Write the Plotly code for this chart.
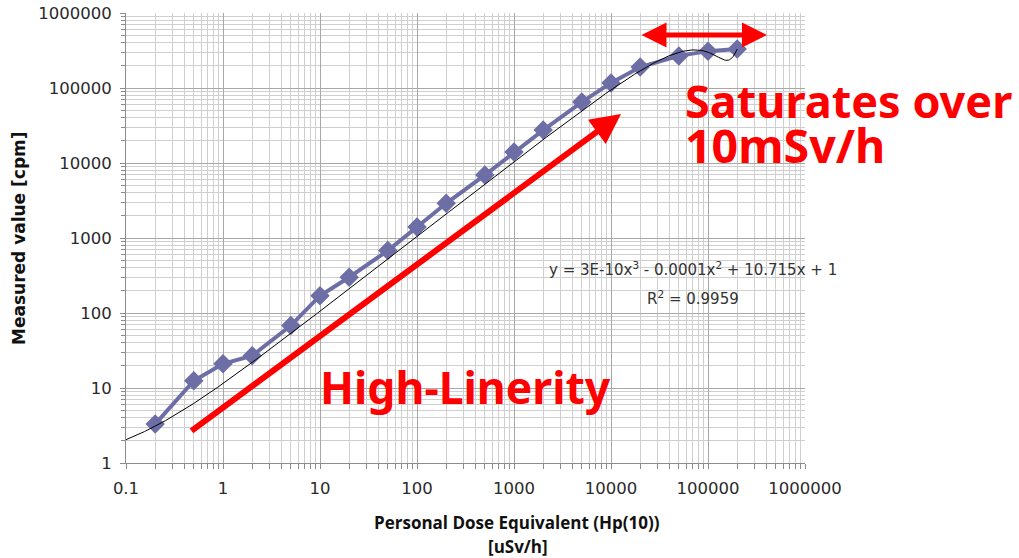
import numpy as np
import plotly.graph_objects as go

# ---- data ----
dose_usvh = [0.2, 0.5, 1, 2, 5, 10, 20, 50, 100, 200, 500, 1000, 2000,
             5000, 10000, 20000, 50000, 100000, 200000]
measured_cpm = [3.3, 12.5, 21, 27, 68, 170, 300, 680, 1400, 2900, 6900,
                14000, 27500, 65000, 117000, 190000, 268000, 310000, 330000]
tick_vals_x = [0.1, 1, 10, 100, 1000, 10000, 100000, 1000000]
tick_text_x = ["0.1", "1", "10", "100", "1000", "10000", "100000", "1000000"]
tick_vals_y = [1, 10, 100, 1000, 10000, 100000, 1000000]
tick_text_y = ["1", "10", "100", "1000", "10000", "100000", "1000000"]
trend_intercept = 1  # Excel trendline with intercept set to 1

# Excel-style polynomial (order 3) trendline fitted on the data, intercept fixed
xd = np.array(dose_usvh, dtype=float)
yd = np.array(measured_cpm, dtype=float)
A = np.vstack([xd ** 3, xd ** 2, xd]).T
abc, *_ = np.linalg.lstsq(A, yd - trend_intercept, rcond=None)
xt = np.logspace(np.log10(0.1), np.log10(xd.max()), 800)
yt = abc[0] * xt ** 3 + abc[1] * xt ** 2 + abc[2] * xt + trend_intercept


def minor_vals(lo, hi):
    return [m * 10.0 ** e for e in range(lo, hi) for m in range(2, 10)]


SER = "rgb(110,110,166)"
fig = go.Figure()
fig.add_trace(go.Scatter(x=dose_usvh, y=measured_cpm, mode="lines+markers",
                         line=dict(color=SER, width=4),
                         marker=dict(symbol="diamond", size=15, color=SER),
                         hoverinfo="skip", showlegend=False))
fig.add_trace(go.Scatter(x=xt, y=yt, mode="lines",
                         line=dict(color="black", width=1),
                         hoverinfo="skip", showlegend=False))

L, R, T, B = 126, 805, 13, 463
W, H = 1019, 558


def px(x):
    return (x - L) / (R - L)


def py(y):
    return (B - y) / (B - T)


axis_common = dict(type="log", showline=True, linecolor="#8c8c8c", linewidth=1,
                   ticks="outside", ticklen=5, tickcolor="#8c8c8c",
                   showgrid=True, gridcolor="#a8a8a8", gridwidth=1,
                   zeroline=False, mirror=False, automargin=False,
                   ticklabelstandoff=5,
                   tickfont=dict(family="DejaVu Sans", size=16.5, color="#2a2a2a"))

fig.update_xaxes(**axis_common, range=[-1, 6], tickvals=tick_vals_x,
                 ticktext=tick_text_x,
                 minor=dict(tickmode="array", tickvals=minor_vals(-1, 6),
                            ticks="outside", ticklen=5, tickcolor="#8c8c8c",
                            showgrid=True, gridcolor="#cfcfcf", gridwidth=1))
fig.update_yaxes(**axis_common, range=[0, 6], tickvals=tick_vals_y,
                 ticktext=tick_text_y,
                 minor=dict(tickmode="array", tickvals=minor_vals(0, 6),
                            ticks="outside", ticklen=4, tickcolor="#8c8c8c",
                            showgrid=True, gridcolor="#cfcfcf", gridwidth=1))

red = "#ff0000"
ann = []
# double arrow (saturation range)
ann.append(dict(xref="paper", yref="paper", x=px(767), y=py(35), ax=-127, ay=0,
                text="", showarrow=True, arrowhead=2, arrowside="end+start",
                arrowsize=1, arrowwidth=5, arrowcolor=red))
# big arrow
ann.append(dict(xref="paper", yref="paper", x=px(621), y=py(114), ax=-431, ay=318,
                text="", showarrow=True, arrowhead=2, arrowsize=1,
                arrowwidth=6, arrowcolor=red))
ann.append(dict(xref="paper", yref="paper", x=px(683), y=py(100), xanchor="left",
                yanchor="middle", text="<b>Saturates over</b>", showarrow=False,
                font=dict(family="Noto Sans", size=45, color=red)))
ann.append(dict(xref="paper", yref="paper", x=px(683), y=py(145), xanchor="left",
                yanchor="middle", text="<b>10mSv/h</b>", showarrow=False,
                font=dict(family="Noto Sans", size=46.5, color=red)))
ann.append(dict(xref="paper", yref="paper", x=px(318), y=py(386), xanchor="left",
                yanchor="middle", text="<b>High-Linerity</b>", showarrow=False,
                font=dict(family="Noto Sans", size=44.5, color=red)))
eq = dict(family="DejaVu Sans", size=15, color="#333333")
ann.append(dict(xref="paper", yref="paper", x=px(693), y=py(269), xanchor="center",
                yanchor="middle", text="y = 3E-10x<sup>3</sup> - 0.0001x<sup>2</sup> + 10.715x + 1",
                showarrow=False, font=eq))
ann.append(dict(xref="paper", yref="paper", x=px(693), y=py(298), xanchor="center",
                yanchor="middle", text="R<sup>2</sup> = 0.9959", showarrow=False, font=eq))
tf = dict(family="Open Sans", size=17, color="#111111")
ann.append(dict(xref="paper", yref="paper", x=px(517), y=py(522), xanchor="center",
                yanchor="middle", text="<b>Personal Dose Equivalent (Hp(10))</b>",
                showarrow=False, font=tf))
ann.append(dict(xref="paper", yref="paper", x=px(518), y=py(546), xanchor="center",
                yanchor="middle", text="<b>[uSv/h]</b>", showarrow=False, font=tf))
ann.append(dict(xref="paper", yref="paper", x=px(19), y=py(238), xanchor="center",
                yanchor="middle", text="<b>Measured value [cpm]</b>", textangle=-90,
                showarrow=False, font=dict(family="DejaVu Sans", size=17, color="#111111")))

fig.update_layout(width=W, height=H, margin=dict(l=L, r=W - R, t=T, b=H - B),
                  paper_bgcolor="white", plot_bgcolor="white",
                  annotations=ann, showlegend=False)
fig.write_html("out.html", config={"displayModeBar": False},
               post_script="document.body.style.margin='0';document.body.style.overflow='hidden';")
